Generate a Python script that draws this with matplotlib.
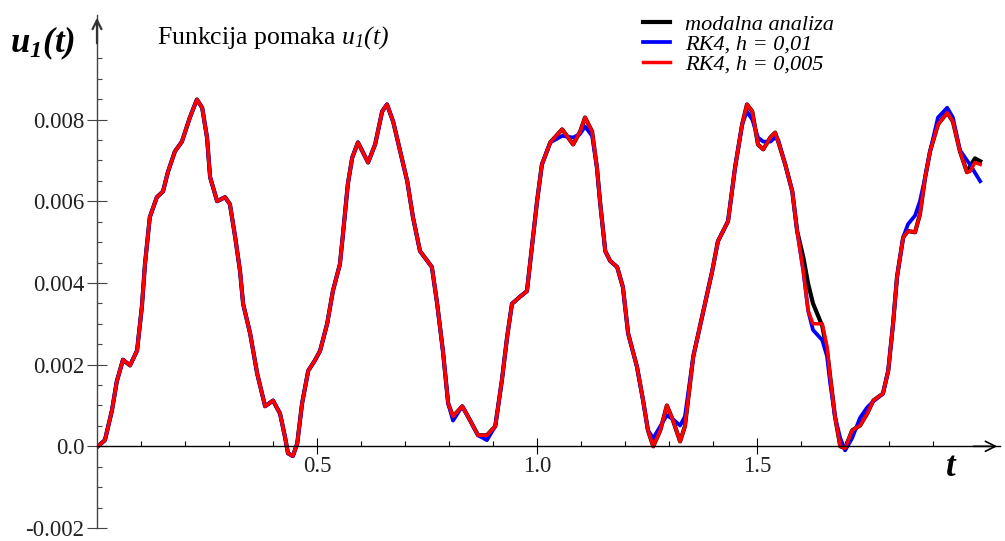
import matplotlib
matplotlib.use('Agg')
import numpy as np
import matplotlib.pyplot as plt
from matplotlib.ticker import FixedLocator

plt.rcParams['font.family'] = 'Liberation Serif'
plt.rcParams['mathtext.fontset'] = 'custom'
plt.rcParams['mathtext.rm'] = 'Liberation Serif:italic'
plt.rcParams['mathtext.it'] = 'Liberation Serif:italic'
plt.rcParams['mathtext.bf'] = 'Liberation Serif:bold'
plt.rcParams['mathtext.bfit'] = 'Liberation Serif:bold:italic'

## data
t = [0.002, 0.018, 0.034, 0.045, 0.059, 0.075, 0.091, 0.102, 0.109, 0.120,
     0.136, 0.150, 0.161, 0.177, 0.193, 0.211, 0.227, 0.239, 0.250, 0.257,
     0.273, 0.291, 0.302, 0.314, 0.325, 0.332, 0.348, 0.364, 0.382, 0.400,
     0.416, 0.427, 0.434, 0.445, 0.455, 0.466, 0.480, 0.495, 0.507, 0.523,
     0.536, 0.552, 0.559, 0.570, 0.580, 0.593, 0.616, 0.632, 0.648, 0.659,
     0.673, 0.689, 0.705, 0.718, 0.734, 0.761, 0.773, 0.786, 0.798, 0.809,
     0.830, 0.843, 0.866, 0.886, 0.905, 0.920, 0.932, 0.943, 0.961, 0.977,
     0.989, 1.000, 1.011, 1.030, 1.057, 1.082, 1.098, 1.109, 1.125, 1.136,
     1.143, 1.155, 1.166, 1.182, 1.195, 1.207, 1.227, 1.241, 1.252, 1.264,
     1.280, 1.295, 1.309, 1.325, 1.336, 1.355, 1.375, 1.398, 1.411, 1.434,
     1.450, 1.466, 1.477, 1.489, 1.502, 1.514, 1.530, 1.541, 1.548, 1.564,
     1.580, 1.591, 1.605, 1.616, 1.627, 1.648, 1.659, 1.666, 1.677, 1.689,
     1.700, 1.716, 1.734, 1.750, 1.764, 1.786, 1.798, 1.809, 1.818, 1.832,
     1.843, 1.859, 1.870, 1.882, 1.893, 1.911, 1.932, 1.945, 1.961, 1.977,
     1.984, 1.995, 2.007]

# RK4, h = 0.005
u_red = [0.0, 0.00015, 0.00088, 0.00159, 0.00212, 0.00198, 0.00234, 0.00342, 0.00446, 0.00561,
         0.00610, 0.00624, 0.00671, 0.00722, 0.00746, 0.00805, 0.00849, 0.00829, 0.00756, 0.00659,
         0.00600, 0.00610, 0.00593, 0.00512, 0.00429, 0.00349, 0.00276, 0.00178, 0.00098, 0.00112,
         0.00080, 0.00024, -0.00017, -0.00024, 0.00007, 0.00105, 0.00185, 0.00210, 0.00234, 0.00300,
         0.00380, 0.00446, 0.00520, 0.00642, 0.00707, 0.00744, 0.00695, 0.00739, 0.00820, 0.00837,
         0.00795, 0.00722, 0.00649, 0.00561, 0.00478, 0.00439, 0.00349, 0.00234, 0.00105, 0.00073,
         0.00098, 0.00073, 0.00027, 0.00027, 0.00049, 0.00161, 0.00268, 0.00349, 0.00366, 0.00380,
         0.00495, 0.00600, 0.00690, 0.00744, 0.00776, 0.00739, 0.00771, 0.00805, 0.00771, 0.00683,
         0.00600, 0.00478, 0.00454, 0.00439, 0.00390, 0.00276, 0.00195, 0.00112, 0.00039, 0.0,
         0.00039, 0.00100, 0.00063, 0.00012, 0.00049, 0.00220, 0.00317, 0.00429, 0.00502, 0.00551,
         0.00683, 0.00788, 0.00837, 0.00820, 0.00739, 0.00727, 0.00756, 0.00768, 0.00746, 0.00690,
         0.00624, 0.00527, 0.00429, 0.00332, 0.00300, 0.00300, 0.00244, 0.00171, 0.00073, 0.0,
         -0.00005, 0.00039, 0.00051, 0.00080, 0.00112, 0.00129, 0.00185, 0.00300, 0.00415, 0.00512,
         0.00527, 0.00524, 0.00568, 0.00659, 0.00722, 0.00788, 0.00817, 0.00795, 0.00722, 0.00671,
         0.00673, 0.00695, 0.00690]

# RK4, h = 0.01
u_blue = [0.0, 0.00015, 0.00088, 0.00159, 0.00212, 0.00198, 0.00234, 0.00342, 0.00446, 0.00561,
          0.00610, 0.00624, 0.00671, 0.00722, 0.00746, 0.00805, 0.00849, 0.00829, 0.00756, 0.00659,
          0.00600, 0.00610, 0.00593, 0.00512, 0.00429, 0.00349, 0.00276, 0.00178, 0.00098, 0.00112,
          0.00080, 0.00024, -0.00017, -0.00024, 0.00007, 0.00105, 0.00185, 0.00210, 0.00234, 0.00300,
          0.00380, 0.00446, 0.00520, 0.00642, 0.00707, 0.00744, 0.00695, 0.00739, 0.00820, 0.00837,
          0.00795, 0.00722, 0.00649, 0.00561, 0.00478, 0.00439, 0.00349, 0.00234, 0.00105, 0.00063,
          0.00098, 0.00073, 0.00027, 0.00015, 0.00049, 0.00161, 0.00268, 0.00349, 0.00366, 0.00380,
          0.00495, 0.00600, 0.00690, 0.00744, 0.00760, 0.00756, 0.00765, 0.00783, 0.00760, 0.00683,
          0.00600, 0.00478, 0.00454, 0.00439, 0.00390, 0.00276, 0.00195, 0.00112, 0.00039, 0.00020,
          0.00049, 0.00076, 0.00066, 0.00051, 0.00073, 0.00220, 0.00317, 0.00429, 0.00502, 0.00551,
          0.00683, 0.00788, 0.00820, 0.00800, 0.00756, 0.00746, 0.00746, 0.00756, 0.00750, 0.00690,
          0.00624, 0.00527, 0.00429, 0.00332, 0.00285, 0.00260, 0.00220, 0.00155, 0.00073, 0.00020,
          -0.00010, 0.00020, 0.00070, 0.00095, 0.00110, 0.00129, 0.00185, 0.00300, 0.00415, 0.00512,
          0.00544, 0.00565, 0.00600, 0.00659, 0.00722, 0.00805, 0.00829, 0.00805, 0.00725, 0.00700,
          0.00690, 0.00670, 0.00649]

# modalna analiza
u_black = [0.0, 0.00015, 0.00088, 0.00159, 0.00212, 0.00198, 0.00234, 0.00342, 0.00446, 0.00561,
           0.00610, 0.00624, 0.00671, 0.00722, 0.00746, 0.00805, 0.00849, 0.00829, 0.00756, 0.00659,
           0.00600, 0.00610, 0.00593, 0.00512, 0.00429, 0.00349, 0.00276, 0.00178, 0.00098, 0.00112,
           0.00080, 0.00024, -0.00017, -0.00024, 0.00007, 0.00105, 0.00185, 0.00210, 0.00234, 0.00300,
           0.00380, 0.00446, 0.00520, 0.00642, 0.00707, 0.00744, 0.00695, 0.00739, 0.00820, 0.00837,
           0.00795, 0.00722, 0.00649, 0.00561, 0.00478, 0.00439, 0.00349, 0.00234, 0.00105, 0.00073,
           0.00098, 0.00073, 0.00027, 0.00027, 0.00049, 0.00161, 0.00268, 0.00349, 0.00366, 0.00380,
           0.00495, 0.00600, 0.00690, 0.00744, 0.00776, 0.00739, 0.00771, 0.00805, 0.00771, 0.00683,
           0.00600, 0.00478, 0.00454, 0.00439, 0.00390, 0.00276, 0.00195, 0.00112, 0.00039, 0.0,
           0.00039, 0.00100, 0.00063, 0.00012, 0.00049, 0.00220, 0.00317, 0.00429, 0.00502, 0.00551,
           0.00683, 0.00788, 0.00837, 0.00820, 0.00739, 0.00727, 0.00756, 0.00768, 0.00746, 0.00690,
           0.00624, 0.00527, 0.00463, 0.00398, 0.00350, 0.00295, 0.00234, 0.00171, 0.00073, 0.0,
           -0.00005, 0.00039, 0.00051, 0.00080, 0.00112, 0.00129, 0.00185, 0.00300, 0.00415, 0.00512,
           0.00527, 0.00524, 0.00568, 0.00659, 0.00722, 0.00788, 0.00817, 0.00795, 0.00722, 0.00671,
           0.00685, 0.00705, 0.00698]

labels = ['modalna analiza', 'RK4, h = 0,01', 'RK4, h = 0,005']

x_major = [0.5, 1.0, 1.5]
x_major_lbl = ['0.5', '1.0', '1.5']
y_major = [-0.002, 0.0, 0.002, 0.004, 0.006, 0.008]
y_major_lbl = ['-0.002', '0.0', '0.002', '0.004', '0.006', '0.008']

## figure
W, H = 1005, 541
fig = plt.figure(figsize=(W / 100., H / 100.), dpi=100)
ax = fig.add_axes([97. / W, 13. / H, 903. / W, 513. / H])
ax.set_xlim(0, 2.052)
ax.set_ylim(-0.002, 0.01056)

l1, = ax.plot(t, u_black, color='black', lw=3.0, solid_joinstyle='round')
l2, = ax.plot(t, u_blue, color='#0000ff', lw=2.7, solid_joinstyle='round')
l3, = ax.plot(t, u_red, color='#ff0000', lw=2.5, solid_joinstyle='round')

# axes through the origin
for s in ['top', 'right']:
    ax.spines[s].set_visible(False)
ax.spines['bottom'].set_position(('data', 0))
ax.spines['bottom'].set_linewidth(1.0)
ax.spines['left'].set_linewidth(1.0)
ax.spines['left'].set_color('#444444')

ax.xaxis.set_major_locator(FixedLocator(x_major))
ax.set_xticklabels(x_major_lbl)
ax.xaxis.set_minor_locator(FixedLocator([0.1, 0.2, 0.3, 0.4, 0.6, 0.7, 0.8, 0.9,
                                         1.1, 1.2, 1.3, 1.4, 1.6, 1.7, 1.8, 1.9]))
ax.yaxis.set_major_locator(FixedLocator(y_major))
ax.set_yticklabels(y_major_lbl)
ax.yaxis.set_minor_locator(FixedLocator(np.arange(-0.0015, 0.0096, 0.0005)))

ax.tick_params(axis='x', which='major', direction='inout', length=11.5, width=0.8,
               pad=1, labelsize=16.5, colors='black', labelcolor='#222222')
ax.tick_params(axis='x', which='minor', direction='in', length=3.6, width=0.8)
ax.tick_params(axis='y', which='major', direction='inout', length=14, width=0.8,
               pad=2, labelsize=16.5, color='#444444', labelcolor='#222222')
ax.tick_params(axis='y', which='minor', direction='in', length=3.6, width=0.8,
               color='#444444')

# arrow heads
ax.annotate('', xy=(2.052, 0), xytext=(1.985, 0),
            arrowprops=dict(arrowstyle='->', lw=1.2, color='black', mutation_scale=18),
            annotation_clip=False)
ax.annotate('', xy=(0, 0.01056), xytext=(0, 0.0098),
            arrowprops=dict(arrowstyle='->', lw=1.6, color='#333333', mutation_scale=16),
            annotation_clip=False)

# texts
fig.text(10. / W, 1 - 52. / H, r'$\mathbfit{u}_{\mathbfit{1}}\mathbfit{(t)}$', fontsize=25)
fig.text(951. / W, 1 - 468. / H, r'$\mathbfit{t}$', fontsize=25, ha='center', va='center')
fig.text(157. / W, 1 - 44. / H, r'Funkcija pomaka $u_{1}(t)$', fontsize=18.5)

fig.legend([l1, l2, l3], labels, loc='upper left', bbox_to_anchor=(643. / W, 1 - 14. / H),
           frameon=False, borderpad=0, borderaxespad=0, handlelength=1.2, handletextpad=0.7,
           labelspacing=-0.02, prop={'family': 'Liberation Serif', 'style': 'italic', 'size': 16})

fig.savefig('out.png', dpi=100)
